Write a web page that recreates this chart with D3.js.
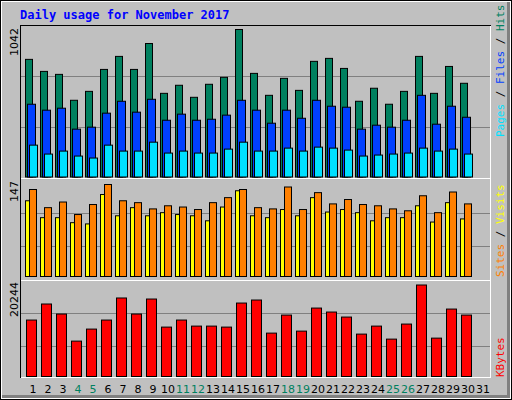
<!DOCTYPE html>
<html><head><meta charset="utf-8">
<script src="https://cdn.jsdelivr.net/npm/d3@7/dist/d3.min.js"></script>
<style>body{margin:0;background:#fff}svg{display:block}</style>
</head><body><svg id="c" width="512" height="400"></svg>
<script>
const days = d3.range(1,32);
const weekend = [4,5,11,12,18,19,25,26];
const hits = [831,746,725,542,605,760,852,760,943,591,648,563,655,704,1042,732,577,697,612,817,838,767,535,627,514,605,852,591,781,662];
const files = [514,472,486,338,352,451,535,458,549,401,444,401,408,437,542,472,380,472,415,542,500,493,338,366,352,401,577,373,500,422];
const pages = [225,162,183,148,134,225,183,183,246,169,183,169,169,197,246,183,183,204,183,211,204,190,148,155,162,169,204,183,197,162];
const sites = [121,94,94,86,84,131,97,110,97,102,99,97,89,111,137,97,94,107,97,126,103,107,102,89,94,94,113,87,118,92];
const visits = [139,110,119,99,115,147,121,118,108,113,111,107,118,126,139,110,108,143,107,134,116,123,115,113,108,105,129,102,135,116];
const kbytes = [12490,16040,13820,7830,10490,12490,17370,13820,17140,10930,12490,11150,11150,10930,16250,16920,9600,13590,10040,15140,14260,13150,9380,11150,8270,11600,20244,8490,14920,13590];

const svg = d3.select("#c");
// outer frame
svg.append("rect").attr("x",0).attr("y",0).attr("width",512).attr("height",400).attr("fill","#000");
svg.append("rect").attr("x",1).attr("y",1).attr("width",510).attr("height",398).attr("fill","#fff");
svg.append("rect").attr("x",2).attr("y",2).attr("width",508).attr("height",396).attr("fill","#808080");
svg.append("rect").attr("x",2).attr("y",2).attr("width",505).attr("height",393).attr("fill","#c0c0c0");

svg.append("text").attr("x",20).attr("y",19).attr("fill","#0000ff")
  .attr("font-family","DejaVu Sans Mono").attr("font-weight","bold").attr("font-size",12)
  .text("Daily usage for November 2017");

const x = d3.scaleLinear().domain([1,31]).range([25,475]);
// plot frame
svg.append("rect").attr("x",20.5).attr("y",25.5).attr("width",470).attr("height",352).attr("fill","none").attr("stroke","#fff");
svg.append("line").attr("x1",20.5).attr("x2",20.5).attr("y1",25).attr("y2",378).attr("stroke","#000");
svg.append("line").attr("x1",20).attr("x2",491).attr("y1",25.5).attr("y2",25.5).attr("stroke","#000");
[178.5,280.5].forEach(y=>svg.append("line").attr("x1",21).attr("x2",491).attr("y1",y).attr("y2",y).attr("stroke","#fff"));

function panel(top,bottom,max,grid,series){
  const y=d3.scaleLinear().domain([0,max]).range([bottom,top]);
  grid.forEach(g=>svg.append("line").attr("x1",21).attr("x2",490).attr("y1",g+.5).attr("y2",g+.5).attr("stroke","#808080"));
  series.forEach(s=>{
    svg.append("g").selectAll("rect").data(s.v).join("rect")
      .attr("x",(d,i)=>x(i+1)+s.off+.5).attr("width",s.w)
      .attr("y",d=>y(d)+.5).attr("height",d=>bottom-y(d))
      .attr("fill",s.c).attr("stroke","#000");
  });
}
panel(29,176.5,1042,[76,127],[
  {v:hits,c:"#00805f",off:0,w:7},
  {v:files,c:"#0040ff",off:2,w:8},
  {v:pages,c:"#00e0ff",off:4,w:8}]);
panel(184,276,147,[213,246],[
  {v:sites,c:"#ffff00",off:0,w:7},
  {v:visits,c:"#ff8000",off:4,w:7}]);
panel(284.5,376,20244,[313,346],[
  {v:kbytes,c:"#ff0000",off:1,w:10}]);

// left max labels
[[1042,28],[147,181],[20244,282]].forEach(([t,y])=>{
  svg.append("text").attr("transform",`translate(18,${y}) rotate(-90)`).attr("text-anchor","end")
   .attr("font-family","DejaVu Sans").attr("font-size",11).attr("fill","#000").text(t);
});
// right legends
function legend(y,parts){
  const t=svg.append("text").attr("transform",`translate(504,${y}) rotate(-90)`)
   .attr("font-family","DejaVu Sans Mono").attr("font-size",11);
  parts.forEach(([s,c])=>t.append("tspan").attr("fill",c).text(s));
}
legend(137,[["Pages","#00e0ff"],[" / ","#000"],["Files","#0040ff"],[" / ","#000"],["Hits","#00805f"]]);
legend(277,[["Sites","#ff8000"],[" / ","#000"],["Visits","#ffff00"]]);
legend(377,[["KBytes","#ff0000"]]);

svg.append("g").selectAll("text").data(days).join("text")
  .attr("x",d=>x(d)+8).attr("y",393).attr("text-anchor","middle")
  .attr("font-family","DejaVu Sans").attr("font-size",11)
  .attr("fill",d=>weekend.includes(d)?"#00805f":"#000").text(d=>d);
</script></body></html>
